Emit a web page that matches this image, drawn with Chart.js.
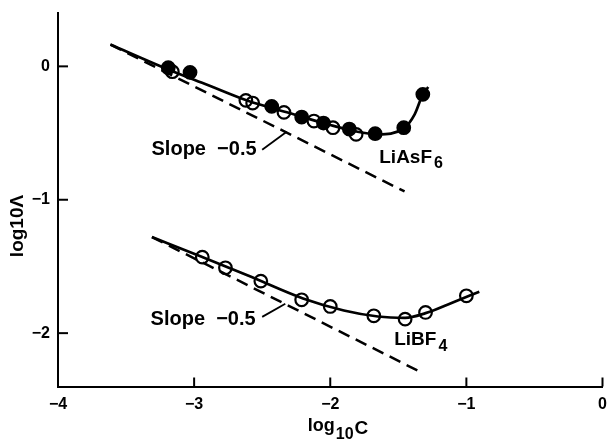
<!DOCTYPE html>
<html><head><meta charset="utf-8">
<script src="https://cdn.jsdelivr.net/npm/chart.js@4.4.1/dist/chart.umd.min.js"></script>
<style>html,body{margin:0;padding:0;background:#fff}#wrap{width:611px;height:442px;position:relative}</style>
</head><body><div id="wrap"><canvas id="c"></canvas></div>
<script>
// ---- data ----
const xTickValues = [-4, -3, -2, -1, 0];
const xTickLabels = ['\u22124', '\u22123', '\u22122', '\u22121', '0'];
const yTickValues = [-2, -1, 0];
const yTickLabels = ['\u22122', '\u22121', '0'];

// LiAsF6 measurements
const asfFilledX = [-3.19, -3.03, -2.43, -2.21, -2.05, -1.86, -1.67, -1.46, -1.32];
const asfFilledY = [-0.01, -0.045, -0.30, -0.38, -0.425, -0.47, -0.505, -0.46, -0.21];
const asfOpenX = [-3.16, -2.62, -2.57, -2.34, -2.12, -1.98, -1.81];
const asfOpenY = [-0.04, -0.255, -0.275, -0.345, -0.41, -0.46, -0.51];
// LiAsF6 fitted curve
const asfCurveX = [-3.615, -3.2, -2.9, -2.6, -2.3, -2.0, -1.8, -1.65, -1.46, -1.38, -1.32, -1.28];
const asfCurveY = [0.163, -0.02, -0.14, -0.26, -0.35, -0.44, -0.49, -0.51, -0.465, -0.36, -0.21, -0.155];
// LiAsF6 slope -0.5 line
const asfSlopeX = [-3.615, -1.454];
const asfSlopeY = [0.163, -0.938];

// LiBF4 measurements
const bfOpenX = [-2.94, -2.77, -2.51, -2.21, -2.00, -1.68, -1.45, -1.30, -1.00];
const bfOpenY = [-1.43, -1.51, -1.61, -1.75, -1.80, -1.87, -1.895, -1.845, -1.72];
// LiBF4 fitted curve
const bfCurveX = [-3.31, -2.94, -2.6, -2.2, -1.9, -1.65, -1.45, -1.3, -1.1, -0.905];
const bfCurveY = [-1.28, -1.43, -1.57, -1.74, -1.83, -1.875, -1.885, -1.85, -1.77, -1.69];
// LiBF4 slope -0.5 line
const bfSlopeX = [-3.31, -1.32];
const bfSlopeY = [-1.28, -2.30];

const xTitle = ['log', '10', 'C'];
const yTitle = 'log10\u039B';
const slopeLabel = 'Slope  \u22120.5';

// ---- build ----
const pts = (xs, ys) => xs.map((x, i) => ({x, y: ys[i]}));
const FONT = '"Liberation Sans", Arial, Helvetica, sans-serif';

const marker = (xs, ys, fill) => ({
  type: 'scatter', data: pts(xs, ys), showLine: false,
  pointRadius: 6.3, pointHoverRadius: 6.3, pointBorderWidth: 2.2,
  pointBorderColor: '#000', pointBackgroundColor: fill
});
const curve = (xs, ys) => ({
  type: 'line', data: pts(xs, ys), showLine: true, fill: false,
  borderColor: '#000', borderWidth: 2.7, pointRadius: 0,
  cubicInterpolationMode: 'monotone'
});
const dashed = (xs, ys) => ({
  type: 'line', data: pts(xs, ys), showLine: true, fill: false,
  borderColor: '#000', borderWidth: 2.5, pointRadius: 0, borderDash: [12, 7], tension: 0
});

const decor = {
  id: 'decor',
  afterDraw(chart) {
    const ctx = chart.ctx, xs = chart.scales.x, ys = chart.scales.y;
    const X = v => xs.getPixelForValue(v), Y = v => ys.getPixelForValue(v);
    const a = chart.chartArea;
    ctx.save();
    ctx.strokeStyle = '#000'; ctx.fillStyle = '#000'; ctx.lineWidth = 2;
    // inward tick marks
    xTickValues.forEach(v => { ctx.beginPath(); ctx.moveTo(X(v), a.bottom); ctx.lineTo(X(v), a.bottom - 9); ctx.stroke(); });
    yTickValues.forEach(v => { ctx.beginPath(); ctx.moveTo(a.left, Y(v)); ctx.lineTo(a.left + 10, Y(v)); ctx.stroke(); });

    // annotations
    ctx.font = 'bold 20px ' + FONT; ctx.textBaseline = 'middle'; ctx.textAlign = 'left';
    ctx.fillText(slopeLabel, X(-3.313), Y(-0.625));
    ctx.fillText(slopeLabel, X(-3.32), Y(-1.90));
    ctx.lineWidth = 1.8;
    ctx.beginPath(); ctx.moveTo(X(-2.50), Y(-0.625)); ctx.lineTo(X(-2.32), Y(-0.49)); ctx.stroke();
    ctx.beginPath(); ctx.moveTo(X(-2.50), Y(-1.878)); ctx.lineTo(X(-2.33), Y(-1.78)); ctx.stroke();

    ctx.textBaseline = 'alphabetic';
    ctx.font = 'bold 19px ' + FONT;
    ctx.fillText('LiAsF', X(-1.64), Y(-0.725));
    let w = ctx.measureText('LiAsF').width;
    ctx.font = 'bold 16px ' + FONT;
    ctx.fillText('6', X(-1.64) + w + 2, Y(-0.725) + 5);
    ctx.font = 'bold 19px ' + FONT;
    ctx.fillText('LiBF', X(-1.53), Y(-2.088));
    w = ctx.measureText('LiBF').width;
    ctx.font = 'bold 16px ' + FONT;
    ctx.fillText('4', X(-1.53) + w + 2, Y(-2.088) + 6);

    // x title with subscript
    const f1 = 'bold 18px ' + FONT, f2 = 'bold 16px ' + FONT, f3 = 'bold 19px ' + FONT;
    ctx.font = f1; const w1 = ctx.measureText(xTitle[0]).width;
    ctx.font = f2; const w2 = ctx.measureText(xTitle[1]).width;
    ctx.font = f3; const w3 = ctx.measureText(xTitle[2]).width;
    let sx = 338 - (w1 + w2 + w3 + 2) / 2;
    ctx.font = f1; ctx.fillText(xTitle[0], sx, 431); sx += w1 + 1;
    ctx.font = f2; ctx.fillText(xTitle[1], sx, 439); sx += w2 + 1;
    ctx.font = f3; ctx.fillText(xTitle[2], sx, 434);

    // y title rotated
    ctx.translate(23, 226); ctx.rotate(-Math.PI / 2);
    ctx.font = 'bold 19px ' + FONT; ctx.textAlign = 'center';
    ctx.fillText(yTitle, 0, 0);
    ctx.restore();
  }
};

new Chart(document.getElementById('c'), {
  type: 'scatter',
  data: {
    datasets: [
      marker(asfFilledX, asfFilledY, '#000'),
      marker(asfOpenX, asfOpenY, 'rgba(255,255,255,0)'),
      marker(bfOpenX, bfOpenY, 'rgba(255,255,255,0)'),
      curve(asfCurveX, asfCurveY),
      curve(bfCurveX, bfCurveY),
      dashed(asfSlopeX, asfSlopeY),
      dashed(bfSlopeX, bfSlopeY)
    ]
  },
  options: {
    responsive: true, maintainAspectRatio: false, animation: false,
    layout: { padding: { top: 13, right: 5.5, left: 0, bottom: 0 } },
    plugins: { legend: { display: false }, tooltip: { enabled: false } },
    scales: {
      x: {
        type: 'linear', min: -4, max: 0,
        grid: { display: false, drawTicks: false },
        border: { display: true, color: '#000', width: 2 },
        afterBuildTicks: s => { s.ticks = xTickValues.map(v => ({value: v})); },
        afterFit: s => { s.height = 55.5; s.paddingLeft = 0; s.paddingRight = 0; },
        ticks: { padding: 8, color: '#000', font: { family: FONT, size: 16, weight: 'bold' },
                 callback: v => xTickLabels[xTickValues.indexOf(v)], maxRotation: 0, autoSkip: false }
      },
      y: {
        type: 'linear', min: -2.4, max: 0.4,
        grid: { display: false, drawTicks: false },
        border: { display: true, color: '#000', width: 2 },
        afterBuildTicks: s => { s.ticks = yTickValues.map(v => ({value: v})); },
        afterFit: s => { s.width = 58; s.paddingTop = 0; s.paddingBottom = 0; },
        ticks: { padding: 8, color: '#000', font: { family: FONT, size: 16, weight: 'bold' },
                 callback: v => yTickLabels[yTickValues.indexOf(v)] }
      }
    }
  },
  plugins: [decor]
});
</script></body></html>
